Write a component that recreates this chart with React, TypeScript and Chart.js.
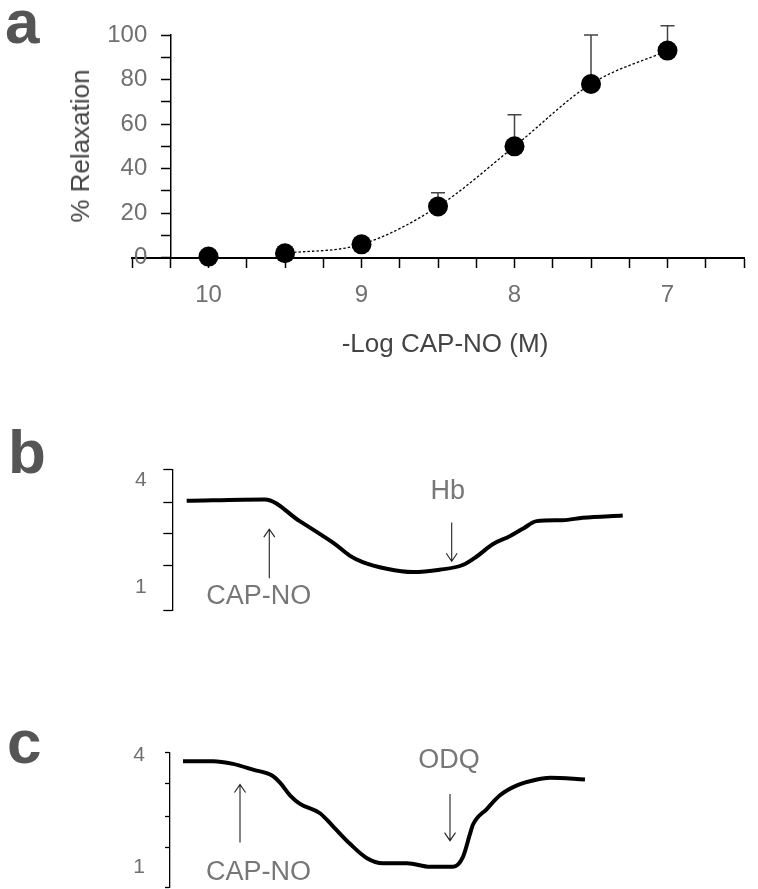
import React, { useEffect, useRef } from 'react';
import { Chart, registerables } from 'chart.js';

Chart.register(...registerables);

// ---------- Panel a : concentration-response ----------
const logConc = [10, 9.5, 9, 8.5, 8, 7.5, 7];
const relaxMean = [0.5, 2, 6, 23, 50, 78, 93];
const relaxSem = [0, 0, 0, 6.2, 14.2, 22, 11.2];
const aXRange = [6.5, 10.5];
const aYRange = [0, 100];
const aXStep = 0.25;
const aYStep = 10;
const aYAxisAt = 10.25;
const aYLabelAnchor = 10.4;

// ---------- Panel b : Hb trace ----------
const bTime = [1.4, 9.2, 12.7, 14.7, 16.2, 17.7, 19.0, 21.4, 24.0, 26.7, 29.0, 30.4, 32.0, 33.7, 35.1, 36.4, 39.0, 41.0, 45.0];
const bTension = [3.33, 3.36, 2.9, 2.63, 2.42, 2.17, 2.03, 1.89, 1.82, 1.87, 1.97, 2.15, 2.41, 2.58, 2.75, 2.9, 2.92, 2.97, 3.02];
const bMarkTicks = [4, 3.3, 2.63, 1.97, 1];
const bLabelTicks = [3.77, 1.49];
const bLabelText = ['4', '1'];
const bEventLabels = ['CAP-NO', 'Hb'];
const bEventTime = [9.66, 27.9];
const bArrowTail = [1.69, 2.87];
const bArrowTip = [2.73, 2.05];
const bTextTime = [8.6, 27.5];
const bTextValue = [1.3, 3.53];

// ---------- Panel c : ODQ trace ----------
const cTime = [1.3, 4.3, 6.3, 8.3, 10.2, 11.0, 12.0, 13.0, 15.0, 16.3, 18.0, 19.7, 21.3, 23.7, 26.0, 28.3, 29.3, 30.0, 30.3, 31.7, 33.0, 34.7, 36.7, 38.0, 41.5];
const cTension = [3.81, 3.81, 3.75, 3.62, 3.49, 3.33, 3.05, 2.86, 2.65, 2.36, 1.97, 1.65, 1.54, 1.54, 1.46, 1.46, 1.68, 2.19, 2.4, 2.75, 3.05, 3.27, 3.4, 3.44, 3.4];
const cMarkTicks = [4, 3.31, 2.58, 1.89, 1];
const cLabelTicks = [3.94, 1.46];
const cLabelText = ['4', '1'];
const cEventLabels = ['CAP-NO', 'ODQ'];
const cEventTime = [7.0, 28.0];
const cArrowTail = [2.0, 3.08];
const cArrowTip = [3.29, 2.04];
const cTextTime = [8.85, 27.9];
const cTextValue = [1.32, 3.83];

const traceTimeRange = [0, 50];
const traceYRange = [1, 4];

const FONT = '"Liberation Sans", Arial, Helvetica, sans-serif';
const TICK_COLOR = '#707070';
const TITLE_COLOR = '#444444';

const errorBarPlugin = {
  id: 'errorBars',
  beforeDatasetsDraw(chart: any) {
    const { ctx, scales } = chart;
    const x = scales.x;
    const y = scales.y;
    ctx.save();
    ctx.strokeStyle = '#444';
    ctx.lineWidth = 1.5;
    logConc.forEach((c, i) => {
      if (!relaxSem[i]) return;
      const px = x.getPixelForValue(c);
      const py = y.getPixelForValue(relaxMean[i]);
      const pt = y.getPixelForValue(relaxMean[i] + relaxSem[i]);
      ctx.beginPath();
      ctx.moveTo(px, py);
      ctx.lineTo(px, pt);
      ctx.moveTo(px - 7, pt);
      ctx.lineTo(px + 7, pt);
      ctx.stroke();
    });
    ctx.restore();
  },
};

function makeEventPlugin(
  labels: string[],
  times: number[],
  tails: number[],
  tips: number[],
  textTimes: number[],
  textValues: number[]
) {
  return {
    id: 'eventMarks',
    afterDatasetsDraw(chart: any) {
      const { ctx, scales } = chart;
      const x = scales.x;
      const y = scales.y;
      ctx.save();
      ctx.strokeStyle = '#222';
      ctx.lineWidth = 1.1;
      times.forEach((t, i) => {
        const px = x.getPixelForValue(t);
        const py0 = y.getPixelForValue(tails[i]);
        const py1 = y.getPixelForValue(tips[i]);
        const dir = py1 < py0 ? 1 : -1;
        ctx.beginPath();
        ctx.moveTo(px, py0);
        ctx.lineTo(px, py1);
        ctx.moveTo(px - 5.5, py1 + dir * 8);
        ctx.lineTo(px, py1);
        ctx.lineTo(px + 5.5, py1 + dir * 8);
        ctx.stroke();
      });
      ctx.fillStyle = '#777';
      ctx.font = `27px ${FONT}`;
      ctx.textAlign = 'center';
      ctx.textBaseline = 'middle';
      labels.forEach((lab, i) => {
        ctx.fillText(lab, x.getPixelForValue(textTimes[i]), y.getPixelForValue(textValues[i]));
      });
      ctx.restore();
    },
  };
}

function aConfig(): any {
  return {
    type: 'line',
    data: {
      datasets: [
        {
          data: logConc.slice(1).map((c, i) => ({ x: c, y: relaxMean[i + 1] })),
          borderColor: '#000',
          borderWidth: 1.3,
          borderDash: [2.5, 2],
          pointRadius: 0,
          cubicInterpolationMode: 'monotone',
          fill: false,
          clip: false,
        },
        {
          data: logConc.map((c, i) => ({ x: c, y: relaxMean[i] })),
          showLine: false,
          pointRadius: 10,
          pointBackgroundColor: '#000',
          pointBorderColor: '#000',
          pointBorderWidth: 0,
          clip: false,
        },
      ],
    },
    options: {
      animation: false,
      responsive: true,
      maintainAspectRatio: false,
      events: [],
      layout: { padding: { left: 132, right: 11, top: 35, bottom: 102.3 } },
      plugins: { legend: { display: false }, tooltip: { enabled: false } },
      scales: {
        x: {
          type: 'linear',
          min: aXRange[0],
          max: aXRange[1],
          reverse: true,
          position: { y: 0 },
          ticks: {
            stepSize: aXStep,
            maxTicksLimit: 100,
            autoSkip: false,
            maxRotation: 0,
            padding: 14,
            color: TICK_COLOR,
            font: { family: FONT, size: 24 },
            callback: (v: number) => (Number.isInteger(v) ? String(v) : ''),
          },
          grid: { display: true, drawOnChartArea: false, drawTicks: true, tickLength: 9, tickColor: '#000', tickWidth: 1.5 },
          border: { display: true, color: '#000', width: 2 },
        },
        y: {
          type: 'linear',
          min: aYRange[0],
          max: aYRange[1],
          position: { x: aYAxisAt },
          ticks: { stepSize: aYStep, display: false },
          grid: { display: true, drawOnChartArea: false, drawTicks: true, tickLength: 9, tickColor: '#000', tickWidth: 1.5 },
          border: { display: true, color: '#000', width: 1.5 },
        },
        yLabels: {
          type: 'linear',
          min: aYRange[0],
          max: aYRange[1],
          position: { x: aYLabelAnchor },
          grid: { display: false },
          border: { display: false },
          ticks: {
            stepSize: aYStep,
            autoSkip: false,
            color: TICK_COLOR,
            font: { family: FONT, size: 24 },
            callback: (v: number) => (v % 20 === 0 ? String(v) : ''),
          },
        },
      },
    },
    plugins: [errorBarPlugin],
  };
}

function traceConfig(
  times: number[],
  values: number[],
  markTicks: number[],
  labelTicks: number[],
  labelText: string[],
  axisLeft: number,
  tickLen: number,
  tickPad: number,
  padding: any,
  plugin: any
): any {
  const isLabel = (v: number) => labelTicks.some((l) => Math.abs(l - v) < 1e-6);
  return {
    type: 'line',
    data: {
      datasets: [
        {
          data: times.map((t, i) => ({ x: t, y: values[i] })),
          borderColor: '#000',
          borderWidth: 4,
          pointRadius: 0,
          cubicInterpolationMode: 'monotone',
          fill: false,
          clip: false,
        },
      ],
    },
    options: {
      animation: false,
      responsive: true,
      maintainAspectRatio: false,
      events: [],
      layout: { padding },
      plugins: { legend: { display: false }, tooltip: { enabled: false } },
      scales: {
        x: { type: 'linear', min: traceTimeRange[0], max: traceTimeRange[1], display: false },
        y: {
          type: 'linear',
          min: traceYRange[0],
          max: traceYRange[1],
          position: 'left',
          afterFit: (s: any) => {
            s.width = axisLeft;
          },
          afterBuildTicks: (s: any) => {
            s.ticks = [...markTicks, ...labelTicks].sort((a, b) => a - b).map((v) => ({ value: v }));
          },
          ticks: {
            autoSkip: false,
            padding: tickPad,
            color: TICK_COLOR,
            font: { family: FONT, size: 21 },
            callback: (v: number) => {
              const k = labelTicks.findIndex((l) => Math.abs(l - v) < 1e-6);
              return k >= 0 ? labelText[k] : '';
            },
          },
          grid: {
            display: true,
            drawOnChartArea: false,
            drawTicks: true,
            tickLength: tickLen,
            tickWidth: 1.3,
            tickColor: (ctx: any) => (ctx.tick && isLabel(ctx.tick.value) ? 'rgba(0,0,0,0)' : '#000'),
          },
          border: { display: true, color: '#000', width: 1.3 },
        },
      },
    },
    plugins: [plugin],
  };
}

function ChartBox({ makeConfig, style }: { makeConfig: () => any; style: React.CSSProperties }) {
  const ref = useRef<HTMLCanvasElement>(null);
  useEffect(() => {
    const chart = new Chart(ref.current as HTMLCanvasElement, makeConfig());
    return () => chart.destroy();
  }, []);
  return (
    <div style={{ position: 'absolute', ...style }}>
      <canvas ref={ref} style={{ display: 'block' }} />
    </div>
  );
}

const letterStyle: React.CSSProperties = {
  position: 'absolute',
  fontFamily: FONT,
  fontWeight: 'bold',
  fontSize: 62,
  lineHeight: '62px',
  color: '#555',
};

export default function App() {
  return (
    <div style={{ position: 'absolute', left: 0, top: 0, width: 758, height: 889, overflow: 'hidden', background: '#fff' }}>
      <ChartBox makeConfig={aConfig} style={{ left: 0, top: 0, width: 758, height: 360 }} />
      <ChartBox
        makeConfig={() =>
          traceConfig(bTime, bTension, bMarkTicks, bLabelTicks, bLabelText, 172.7, 9.4, 16.6,
            { left: 0, right: 85.3, top: 22.7, bottom: 25 },
            makeEventPlugin(bEventLabels, bEventTime, bArrowTail, bArrowTip, bTextTime, bTextValue))
        }
        style={{ left: 0, top: 440, width: 758, height: 200 }}
      />
      <ChartBox
        makeConfig={() =>
          traceConfig(cTime, cTension, cMarkTicks, cLabelTicks, cLabelText, 170, 5, 20,
            { left: 0, right: 88, top: 29, bottom: 32 },
            makeEventPlugin(cEventLabels, cEventTime, cArrowTail, cArrowTip, cTextTime, cTextValue))
        }
        style={{ left: 0, top: 720, width: 758, height: 200 }}
      />
      <div style={{ ...letterStyle, left: 5, top: -9.5 }}>a</div>
      <div style={{ ...letterStyle, left: 8, top: 420.5 }}>b</div>
      <div style={{ ...letterStyle, left: 7, top: 710.5 }}>c</div>
      <div
        style={{
          position: 'absolute',
          left: 80,
          top: 146,
          transform: 'translate(-50%, -50%) rotate(-90deg)',
          fontFamily: FONT,
          fontSize: 26,
          color: TITLE_COLOR,
          whiteSpace: 'nowrap',
          lineHeight: '30px',
        }}
      >
        % Relaxation
      </div>
      <div
        style={{
          position: 'absolute',
          left: 445,
          top: 343,
          transform: 'translate(-50%, -50%)',
          fontFamily: FONT,
          fontSize: 26,
          color: TITLE_COLOR,
          whiteSpace: 'nowrap',
          lineHeight: '30px',
        }}
      >
        -Log CAP-NO (M)
      </div>
    </div>
  );
}
